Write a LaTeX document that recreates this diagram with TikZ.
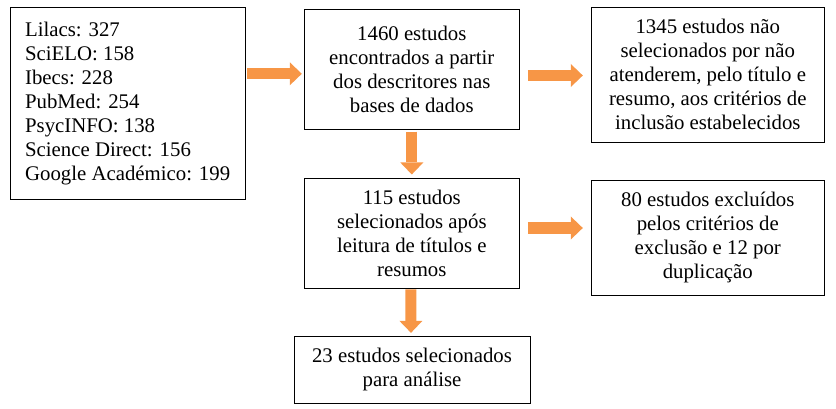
\documentclass[tikz,border=0pt]{standalone}
\usepackage{fontspec}
\setmainfont{Liberation Serif}
\newfontfamily\tnr{Liberation Serif}
\usetikzlibrary{calc,arrows.meta}
\definecolor{arroworange}{RGB}{247,150,70}
\tikzset{
  box/.style={draw=black, line width=1pt, inner sep=0pt, align=center,
    font=\tnr\fontsize{20.8}{24}\selectfont},
  blockarrow/.style={draw=arroworange, line width=11pt,
    -{Triangle[length=12pt,width=23pt,line width=0pt,fill=arroworange]}},
}
\begin{document}
\begin{tikzpicture}[x=1pt,y=-1pt]
\useasboundingbox (0,0) rectangle (836,409);
\node[box, minimum width=235.3pt, minimum height=191.7pt, align=left] (b1) at (127.65,103.2)
  {Lilacs: 327\\SciELO: 158\\Ibecs: 228\\PubMed: 254\\PsycINFO: 138\\Science Direct: 156\\Google Académico: 199};
\node[box, minimum width=215pt, minimum height=119.7pt] (b2) at (411.8,69.2)
  {1460 estudos\\encontrados a partir\\dos descritores nas\\bases de dados};
\node[box, minimum width=233pt, minimum height=135pt] (b3) at (707.8,74.8)
  {1345 estudos não\\selecionados por não\\atenderem, pelo título e\\resumo, aos critérios de\\inclusão estabelecidos};
\node[box, minimum width=215pt, minimum height=110pt] (b4) at (411.8,233.3)
  {115 estudos\\selecionados após\\leitura de títulos e\\resumos};
\node[box, minimum width=233pt, minimum height=114.3pt] (b5) at (707.8,237.9)
  {80 estudos excluídos\\pelos critérios de\\exclusão e 12 por\\duplicação};
\node[box, minimum width=236pt, minimum height=66.3pt] (b6) at (412,369.9)
  {23 estudos selecionados\\para análise};
\draw[blockarrow] ($(b1.east|-b2.west)+(1.4,4.6)$) -- ($(b2.west)+(-2,4.6)$);
\draw[blockarrow] ($(b2.east|-b3.west)+(8,0.7)$) -- ($(b3.west)+(-8,0.7)$);
\draw[blockarrow] ($(b4.east)+(8,-5.3)$) -- ($(b5.west|-b4.east)+(-8,-5.3)$);
\draw[blockarrow] ($(b2.south)+(0,2)$) -- ($(b4.north)+(0,-3.3)$);
\draw[blockarrow] ($(b4.south)+(-1,0.5)$) -- ($(b6.north)+(-1,-3.4)$);
\end{tikzpicture}
\end{document}
